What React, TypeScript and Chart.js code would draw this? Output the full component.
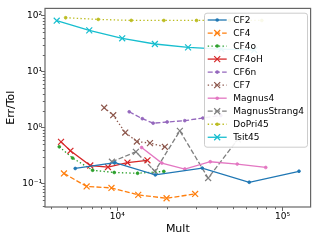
import React, { useEffect, useRef } from 'react';
import { Chart, registerables } from 'chart.js';

Chart.register(...registerables);

// ---- data (Mult vs Err/Tol) ----
const cf2Mult = [5570, 9690, 17000, 32700, 62950, 125900];
const cf2Err = [0.185, 0.236, 0.142, 0.188, 0.105, 0.165];

const cf4Mult = [4760, 6530, 9230, 13400, 19890, 29620];
const cf4Err = [0.151, 0.0885, 0.0832, 0.0625, 0.0544, 0.065];

const cf4oMult = [4460, 5370, 7100, 9590, 13280, 19150];
const cf4oErr = [0.451, 0.284, 0.172, 0.157, 0.152, 0.164];

const cf4oHMult = [4570, 5210, 6870, 8790, 11530, 15240];
const cf4oHErr = [0.552, 0.383, 0.209, 0.196, 0.236, 0.259];

const cf6nMult = [11820, 14190, 16500, 20060, 25640, 32970, 42370];
const cf6nErr = [1.9, 1.43, 1.19, 1.25, 1.32, 1.47, 1.63];

const cf7Mult = [8340, 9460, 11180, 13150, 15780, 19420];
const cf7Err = [2.25, 1.65, 0.809, 0.56, 0.524, 0.451];

const magnus4Mult = [14050, 18620, 25640, 36560, 53260, 79230];
const magnus4Err = [0.438, 0.231, 0.181, 0.244, 0.222, 0.193];

const magnusStrang4Mult = [9290, 12970, 16900, 23940, 35500, 53700];
const magnusStrang4Err = [0.244, 0.367, 0.165, 0.867, 0.125, 0.612];

const dopri45Mult = [4875, 7677, 12160, 19150, 30200, 47800, 75000];
const dopri45Err = [90.6, 84.6, 81.2, 81, 81, 81, 81];

const tsit45Mult = [4304, 6774, 10720, 16900, 26840, 42600, 67500];
const tsit45Err = [80.2, 53.9, 38.9, 30.8, 26.8, 25, 24];

const xRange = [3656, 148000];
const yRange = [0.038, 133];

const xTitle = 'Mult';
const yTitle = 'Err/Tol';

const supDigits: Record<string, string> = {
  '0': '\u2070', '1': '\u00B9', '2': '\u00B2', '3': '\u00B3', '4': '\u2074',
  '5': '\u2075', '6': '\u2076', '7': '\u2077', '8': '\u2078', '9': '\u2079', '-': '\u207B',
};
const powLabel = (e: number) => '10' + String(e).split('').map((c) => supDigits[c]).join('');

type Style = { name: string; color: string; dash: number[]; marker: 'dot' | 'x'; mult: number[]; err: number[] };

const series: Style[] = [
  { name: 'CF2', color: '#1f77b4', dash: [], marker: 'dot', mult: cf2Mult, err: cf2Err },
  { name: 'CF4', color: '#ff7f0e', dash: [5, 2.2], marker: 'x', mult: cf4Mult, err: cf4Err },
  { name: 'CF4o', color: '#2ca02c', dash: [1.4, 2.3], marker: 'dot', mult: cf4oMult, err: cf4oErr },
  { name: 'CF4oH', color: '#d62728', dash: [], marker: 'x', mult: cf4oHMult, err: cf4oHErr },
  { name: 'CF6n', color: '#9467bd', dash: [5, 2.2], marker: 'dot', mult: cf6nMult, err: cf6nErr },
  { name: 'CF7', color: '#8c564b', dash: [1.4, 2.3], marker: 'x', mult: cf7Mult, err: cf7Err },
  { name: 'Magnus4', color: '#e377c2', dash: [], marker: 'dot', mult: magnus4Mult, err: magnus4Err },
  { name: 'MagnusStrang4', color: '#7f7f7f', dash: [5, 2.2], marker: 'x', mult: magnusStrang4Mult, err: magnusStrang4Err },
  { name: 'DoPri45', color: '#bcbd22', dash: [1.4, 2.3], marker: 'dot', mult: dopri45Mult, err: dopri45Err },
  { name: 'Tsit45', color: '#17becf', dash: [], marker: 'x', mult: tsit45Mult, err: tsit45Err },
];

const FONT = '"DejaVu Sans", sans-serif';
const LW = 1.3;
const SPINE = '#666666';

const logTicks = (min: number, max: number) => {
  const out: number[] = [];
  for (let e = Math.floor(Math.log10(min)); e <= Math.ceil(Math.log10(max)); e++) {
    for (let m = 1; m <= 9; m++) {
      const v = m * Math.pow(10, e);
      if (v >= min && v <= max) out.push(v);
    }
  }
  return out;
};
const isPow = (v: number) => {
  const e = Math.log10(v);
  return Math.abs(e - Math.round(e)) < 1e-9;
};

const drawMarker = (ctx: CanvasRenderingContext2D, kind: 'dot' | 'x', x: number, y: number, color: string) => {
  ctx.save();
  ctx.setLineDash([]);
  if (kind === 'dot') {
    ctx.fillStyle = color;
    ctx.beginPath();
    ctx.arc(x, y, 1.8, 0, Math.PI * 2);
    ctx.fill();
  } else {
    ctx.strokeStyle = color;
    ctx.lineWidth = 1.2;
    const r = 3;
    ctx.beginPath();
    ctx.moveTo(x - r, y - r);
    ctx.lineTo(x + r, y + r);
    ctx.moveTo(x - r, y + r);
    ctx.lineTo(x + r, y - r);
    ctx.stroke();
  }
  ctx.restore();
};

const framePlugin = {
  id: 'frameTicksLegend',
  afterDatasetsDraw(chart: any) {
    const ctx: CanvasRenderingContext2D = chart.ctx;
    const { left, right, top, bottom } = chart.chartArea;
    const xs = chart.scales.x;
    const ys = chart.scales.y;
    ctx.save();
    // ticks
    ctx.strokeStyle = SPINE;
    ctx.lineWidth = 1;
    for (const v of logTicks(xRange[0], xRange[1])) {
      const px = Math.round(xs.getPixelForValue(v)) + 0.5;
      const len = isPow(v) ? 4 : 2.2;
      ctx.beginPath();
      ctx.moveTo(px, bottom);
      ctx.lineTo(px, bottom + len);
      ctx.stroke();
    }
    for (const v of logTicks(yRange[0], yRange[1])) {
      const py = Math.round(ys.getPixelForValue(v)) + 0.5;
      const len = isPow(v) ? 4 : 2.2;
      ctx.beginPath();
      ctx.moveTo(left, py);
      ctx.lineTo(left - len, py);
      ctx.stroke();
    }
    // spines
    ctx.lineWidth = 1.2;
    ctx.strokeRect(left, top, right - left, bottom - top);

    // legend
    const bx = 204, by = 12.7, bw = 103, bh = 134;
    ctx.fillStyle = 'rgba(255,255,255,0.9)';
    ctx.strokeStyle = '#cccccc';
    ctx.lineWidth = 1;
    ctx.beginPath();
    (ctx as any).roundRect(bx + 0.5, by + 0.5, bw, bh, 2.5);
    ctx.fill();
    ctx.stroke();
    series.forEach((s, i) => {
      const yy = 20 + 13.03 * i;
      ctx.save();
      ctx.strokeStyle = s.color;
      ctx.lineWidth = LW;
      ctx.setLineDash(s.dash);
      ctx.beginPath();
      ctx.moveTo(207.7, yy);
      ctx.lineTo(226.7, yy);
      ctx.stroke();
      ctx.restore();
      drawMarker(ctx, s.marker, 217.2, yy, s.color);
      ctx.fillStyle = '#000';
      ctx.font = '9px ' + FONT;
      ctx.textBaseline = 'middle';
      ctx.textAlign = 'left';
      ctx.fillText(s.name, 233.3, yy + 0.5);
    });
    ctx.restore();
  },
};

export default function App() {
  const ref = useRef<HTMLCanvasElement | null>(null);
  useEffect(() => {
    if (!ref.current) return;
    const datasets = series.map((s) => ({
      label: s.name,
      data: s.mult.map((m, i) => ({ x: m, y: s.err[i] })),
      borderColor: s.color,
      backgroundColor: s.color,
      borderWidth: LW,
      borderDash: s.dash,
      pointStyle: s.marker === 'dot' ? 'circle' : 'crossRot',
      pointRadius: s.marker === 'dot' ? 1.4 : 4.2,
      pointBorderWidth: s.marker === 'dot' ? 0.8 : 1.2,
      pointBackgroundColor: s.color,
      pointBorderColor: s.color,
      fill: false,
      tension: 0,
    }));
    const tickCb = (value: any) => {
      const v = Number(value);
      return isPow(v) ? powLabel(Math.round(Math.log10(v))) : '';
    };
    const chart = new Chart(ref.current, {
      type: 'line',
      data: { datasets: datasets as any },
      options: {
        animation: false,
        responsive: false,
        devicePixelRatio: 1,
        layout: { padding: { left: 0, top: 7, right: 5, bottom: 0 } },
        plugins: { legend: { display: false }, tooltip: { enabled: false } },
        scales: {
          x: {
            type: 'logarithmic',
            min: xRange[0],
            max: xRange[1],
            grid: { display: false, drawTicks: false },
            border: { display: false },
            afterBuildTicks: (scale: any) => {
              scale.ticks = logTicks(xRange[0], xRange[1]).map((v) => ({ value: v }));
            },
            afterFit: (scale: any) => {
              scale.height = 34;
            },
            ticks: {
              autoSkip: false,
              maxRotation: 0,
              minRotation: 0,
              padding: 4,
              color: '#000',
              font: { family: FONT, size: 9 },
              callback: tickCb,
            },
            title: {
              display: true,
              text: xTitle,
              color: '#000',
              font: { family: FONT, size: 11 },
              padding: { top: 0, bottom: 5.4 },
            },
          },
          y: {
            type: 'logarithmic',
            min: yRange[0],
            max: yRange[1],
            grid: { display: false, drawTicks: false },
            border: { display: false },
            afterBuildTicks: (scale: any) => {
              scale.ticks = logTicks(yRange[0], yRange[1]).map((v) => ({ value: v }));
            },
            afterFit: (scale: any) => {
              scale.width = 45;
            },
            ticks: {
              autoSkip: false,
              padding: 3,
              color: '#000',
              font: { family: FONT, size: 9 },
              callback: tickCb,
            },
            title: {
              display: true,
              text: yTitle,
              color: '#000',
              font: { family: FONT, size: 11 },
              padding: { top: 4.4, bottom: 0 },
            },
          },
        },
      },
      plugins: [framePlugin],
    });
    return () => chart.destroy();
  }, []);
  return (
    <div style={{ position: 'absolute', left: 0, top: 0, width: 316, height: 241, background: '#fff' }}>
      <canvas ref={ref} width={316} height={241} style={{ display: 'block', width: 316, height: 241 }} />
    </div>
  );
}
